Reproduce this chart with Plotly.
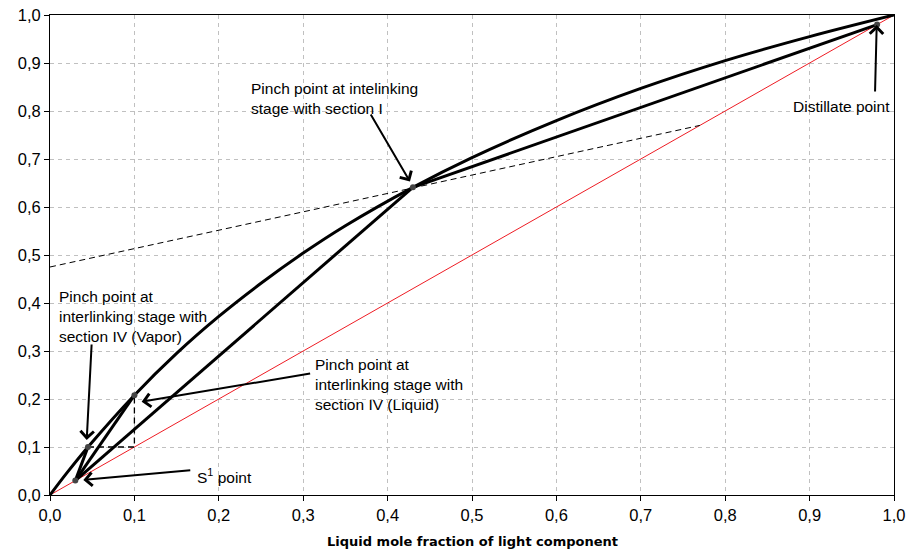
import plotly.graph_objects as go

# Equilibrium curve
eq_x = [0, 0.02, 0.045, 0.1, 0.15, 0.2, 0.25, 0.3, 0.35, 0.43, 0.5, 0.6, 0.7, 0.8, 0.9, 1.0]
eq_y = [0, 0.046, 0.100, 0.208, 0.295, 0.372, 0.441, 0.504, 0.561, 0.641, 0.703, 0.780, 0.847, 0.905, 0.955, 1.0]

# Operating lines
op_low_x = [0.03, 0.43]
op_low_y = [0.03, 0.641]
op_up_x = [0.43, 0.98]
op_up_y = [0.641, 0.98]

# Lines from S1 point to the interlinking-stage pinch points
s1_liq_x = [0.03, 0.1]
s1_liq_y = [0.03, 0.208]
s1_vap_x = [0.03, 0.045]
s1_vap_y = [0.03, 0.1]

# Dashed lines
feed_x = [0, 0.77]
feed_y = [0.475, 0.77]
step_x = [0.045, 0.1, 0.1]
step_y = [0.1, 0.1, 0.208]

# Diagonal
diag_x = [0, 1]
diag_y = [0, 1]

# Marked points: S1, vapor pinch, liquid pinch, section I pinch, distillate
pts_x = [0.03, 0.045, 0.1, 0.43, 0.98]
pts_y = [0.03, 0.1, 0.208, 0.641, 0.98]

tick_vals = [0, 0.1, 0.2, 0.3, 0.4, 0.5, 0.6, 0.7, 0.8, 0.9, 1.0]
tick_text = ["0,0", "0,1", "0,2", "0,3", "0,4", "0,5", "0,6", "0,7", "0,8", "0,9", "1,0"]

fig = go.Figure()
fig.add_trace(go.Scatter(x=diag_x, y=diag_y, mode="lines", line=dict(color="#ee1c24", width=1)))
fig.add_trace(go.Scatter(x=feed_x, y=feed_y, mode="lines", line=dict(color="black", width=1, dash="6px,4px")))
fig.add_trace(go.Scatter(x=step_x, y=step_y, mode="lines", line=dict(color="black", width=1.3, dash="6px,4px")))
fig.add_trace(go.Scatter(x=eq_x, y=eq_y, mode="lines", line=dict(color="black", width=3, shape="spline")))
fig.add_trace(go.Scatter(x=op_low_x, y=op_low_y, mode="lines", line=dict(color="black", width=3)))
fig.add_trace(go.Scatter(x=op_up_x, y=op_up_y, mode="lines", line=dict(color="black", width=3)))
fig.add_trace(go.Scatter(x=s1_liq_x, y=s1_liq_y, mode="lines", line=dict(color="black", width=3)))
fig.add_trace(go.Scatter(x=s1_vap_x, y=s1_vap_y, mode="lines", line=dict(color="black", width=3)))
fig.add_trace(go.Scatter(x=pts_x, y=pts_y, mode="markers", marker=dict(color="#444444", size=6)))

afont = dict(family="Liberation Sans, Arial, sans-serif", size=15.5, color="black")

# arrows: (tip x, tip y, tail x, tail y)
arrows = [
    (0.4265, 0.653, 0.379, 0.796),
    (0.9795, 0.979, 0.9775, 0.8375),
    (0.0435, 0.1146, 0.0494, 0.3167),
    (0.1086, 0.1944, 0.310, 0.2535),
    (0.0395, 0.0313, 0.168, 0.052),
]
for tx, ty, sx, sy in arrows:
    fig.add_annotation(x=tx, y=ty, ax=sx, ay=sy, xref="x", yref="y", axref="x", ayref="y",
                       text="", showarrow=True, arrowhead=4, arrowsize=1.3, arrowwidth=2,
                       arrowcolor="black", standoff=0, startstandoff=0)

labels = [
    (0.2358, 0.827, "Pinch point at intelinking<br>stage with section I"),
    (0.878, 0.810, "Distillate point"),
    (0.0083, 0.371, "Pinch point at<br>interlinking stage with<br>section IV (Vapor)"),
    (0.3116, 0.230, "Pinch point at<br>interlinking stage with<br>section IV (Liquid)"),
    (0.1718, 0.040, "S<sup>1</sup> point"),
]
for lx, ly, txt in labels:
    fig.add_annotation(x=lx, y=ly, xref="x", yref="y", text=txt, showarrow=False,
                       xanchor="left", yanchor="middle", align="left", font=afont)

# x-axis title
fig.add_annotation(x=0.5, y=-0.096, xref="paper", yref="paper", showarrow=False,
                   text="<b>Liquid mole fraction of light component</b>",
                   xanchor="center", yanchor="middle",
                   font=dict(family="DejaVu Sans, Verdana, sans-serif", size=13, color="black"))

axis_common = dict(
    range=[0, 1], tickvals=tick_vals, ticktext=tick_text,
    showgrid=True, gridcolor="#c0c0c0", griddash="4px,4px", gridwidth=1,
    showline=True, linecolor="black", linewidth=1, mirror=True,
    ticks="outside", ticklen=5, tickcolor="black", zeroline=False, automargin=False,
    ticklabeloverflow="allow",
    tickfont=dict(family="Liberation Sans, Arial, sans-serif", size=16.5, color="black"),
)
fig.update_xaxes(**axis_common)
fig.update_yaxes(**axis_common)

fig.update_layout(
    width=909, height=552,
    margin=dict(l=50, r=15, t=15, b=57, autoexpand=False),
    paper_bgcolor="white", plot_bgcolor="white",
    showlegend=False,
)

# remove the default 8px page margin so the figure fills the window exactly
fig.write_html("out.html", config={"displayModeBar": False},
               post_script="document.body.style.margin='0px';")
